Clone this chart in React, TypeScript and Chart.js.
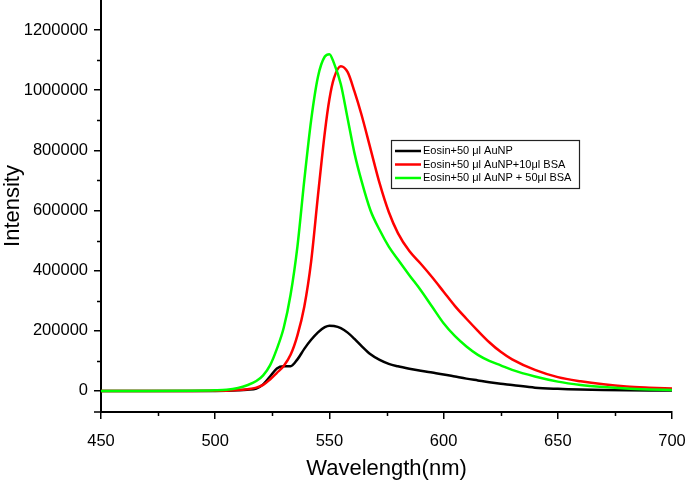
import React, { useEffect, useRef } from 'react';
import { Chart, registerables } from 'chart.js';
Chart.register(...registerables);

const wavelengths = [450, 470, 490, 500, 505, 510, 514, 518, 521, 524, 527, 530, 533, 536, 539, 542, 545, 548, 550, 552, 555, 558, 561, 564, 568, 572, 576, 580, 585, 590, 595, 600, 605, 610, 615, 620, 625, 630, 640, 650, 660, 670, 680, 690, 700];

const eosinAuNP = [0, 0, 0, 0, 500, 2000, 4000, 8000, 22000, 48000, 75000, 82000, 82000, 105000, 140000, 170000, 195000, 212000, 217000, 216000, 209000, 194000, 173000, 150000, 122000, 103000, 90000, 82000, 74000, 67000, 61000, 55000, 48000, 41000, 35000, 29000, 24000, 20000, 11000, 7000, 4500, 3000, 2200, 1800, 1500];

const eosinAuNP10BSA = [0, 0, 0, 500, 1000, 3000, 6000, 11000, 20000, 38000, 60000, 83000, 120000, 185000, 280000, 430000, 650000, 860000, 970000, 1040000, 1080000, 1060000, 995000, 920000, 805000, 690000, 595000, 525000, 465000, 423000, 378000, 330000, 282000, 240000, 200000, 162000, 130000, 105000, 70000, 46000, 32000, 22000, 15000, 11000, 8000];

const eosinAuNP50BSA = [0, 0, 500, 2000, 4000, 10000, 19000, 33000, 52000, 85000, 140000, 210000, 320000, 480000, 700000, 900000, 1045000, 1112000, 1120000, 1090000, 1020000, 905000, 790000, 700000, 600000, 535000, 480000, 437000, 385000, 335000, 280000, 225000, 182000, 148000, 120000, 100000, 85000, 70000, 48000, 31000, 20000, 13000, 8000, 5000, 3000];

const seriesLabels = ['Eosin+50 \u03bcl AuNP', 'Eosin+50 \u03bcl AuNP+10\u03bcl BSA', 'Eosin+50 \u03bcl AuNP + 50\u03bcl BSA'];
const seriesColors = ['#000000', '#ff0000', '#00ff00'];
const seriesValues = [eosinAuNP, eosinAuNP10BSA, eosinAuNP50BSA];

const xMajorTicks = [450, 500, 550, 600, 650, 700];
const xMinorTicks = [475, 525, 575, 625, 675];
const yMajorTicks = [0, 200000, 400000, 600000, 800000, 1000000, 1200000];
const yMinorTicks = [100000, 300000, 500000, 700000, 900000, 1100000];

const minorTicksPlugin = {
  id: 'minorTicks',
  afterDraw(chart: any) {
    const ctx = chart.ctx;
    const xs = chart.scales.x;
    const ys = chart.scales.y;
    const area = chart.chartArea;
    ctx.save();
    ctx.strokeStyle = '#000';
    ctx.lineWidth = 1.5;
    ctx.beginPath();
    xMinorTicks.forEach((v) => {
      const px = Math.round(xs.getPixelForValue(v)) + 0.5;
      ctx.moveTo(px, area.bottom);
      ctx.lineTo(px, area.bottom + 4);
    });
    yMinorTicks.forEach((v) => {
      const py = Math.round(ys.getPixelForValue(v)) + 0.5;
      ctx.moveTo(area.left, py);
      ctx.lineTo(area.left - 4, py);
    });
    ctx.moveTo(area.left, area.bottom);
    ctx.lineTo(area.left - 7, area.bottom);
    ctx.stroke();
    ctx.restore();
  },
};

const boxLegendPlugin = {
  id: 'boxLegend',
  afterDraw(chart: any) {
    const ctx = chart.ctx;
    const o = chart.options.plugins.boxLegend;
    ctx.save();
    ctx.fillStyle = '#fff';
    ctx.fillRect(o.x, o.y, o.w, o.h);
    ctx.strokeStyle = '#222';
    ctx.lineWidth = 1.2;
    ctx.strokeRect(o.x + 0.5, o.y + 0.5, o.w, o.h);
    ctx.font = '11px "Liberation Sans", Arial, sans-serif';
    ctx.textBaseline = 'middle';
    chart.data.datasets.forEach((ds: any, i: number) => {
      const cy = o.y + o.firstRow + i * o.rowGap;
      ctx.strokeStyle = ds.borderColor;
      ctx.lineWidth = 2.5;
      ctx.beginPath();
      ctx.moveTo(o.x + 4, cy);
      ctx.lineTo(o.x + 30, cy);
      ctx.stroke();
      ctx.fillStyle = '#000';
      ctx.fillText(ds.label, o.x + 32, cy);
    });
    ctx.restore();
  },
};

export default function App() {
  const canvasRef = useRef<HTMLCanvasElement | null>(null);

  useEffect(() => {
    if (!canvasRef.current) return;
    const datasets = seriesValues.map((vals, i) => ({
      label: seriesLabels[i],
      data: wavelengths.map((w, j) => ({ x: w, y: vals[j] })),
      borderColor: seriesColors[i],
      backgroundColor: seriesColors[i],
      borderWidth: 2.5,
      pointRadius: 0,
      fill: false,
      cubicInterpolationMode: 'monotone' as const,
      order: 2 - i,
    }));

    const chart = new Chart(canvasRef.current, {
      type: 'line',
      data: { datasets },
      plugins: [minorTicksPlugin, boxLegendPlugin],
      options: {
        animation: false,
        responsive: false,
        maintainAspectRatio: false,
        layout: { padding: { left: 0, right: 13, top: 0, bottom: 0 } },
        plugins: {
          legend: { display: false },
          tooltip: { enabled: false },
          boxLegend: { x: 391, y: 140, w: 188, h: 48, firstRow: 11, rowGap: 13.5 },
        } as any,
        scales: {
          x: {
            type: 'linear',
            min: 450,
            max: 700,
            afterBuildTicks: (scale: any) => {
              scale.ticks = xMajorTicks.map((v) => ({ value: v }));
            },
            afterFit: (scale: any) => {
              scale.height = 76;
              scale.paddingLeft = 0;
              scale.paddingRight = 0;
            },
            border: { display: true, color: '#000', width: 2 },
            grid: { display: true, drawOnChartArea: false, drawTicks: true, tickLength: 7, color: '#000', lineWidth: 1.5 },
            ticks: {
              color: '#000',
              padding: 13,
              maxRotation: 0,
              autoSkip: false,
              font: { family: '"Liberation Sans", Arial, sans-serif', size: 16.5 },
              callback: (v: any) => String(v),
            },
            title: {
              display: true,
              text: 'Wavelength(nm)',
              color: '#000',
              font: { family: '"Liberation Sans", Arial, sans-serif', size: 22 },
              padding: { top: 0, bottom: 6 },
            },
          },
          y: {
            type: 'linear',
            min: -70000,
            max: 1300000,
            afterBuildTicks: (scale: any) => {
              scale.ticks = yMajorTicks.map((v) => ({ value: v }));
            },
            afterFit: (scale: any) => {
              scale.width = 101;
              scale.paddingTop = 0;
              scale.paddingBottom = 0;
            },
            border: { display: true, color: '#000', width: 2 },
            grid: { display: true, drawOnChartArea: false, drawTicks: true, tickLength: 7, color: '#000', lineWidth: 1.5 },
            ticks: {
              color: '#000',
              padding: 6,
              autoSkip: false,
              font: { family: '"Liberation Sans", Arial, sans-serif', size: 16.5 },
              callback: (v: any) => String(v),
            },
            title: {
              display: true,
              text: 'Intensity',
              color: '#000',
              font: { family: '"Liberation Sans", Arial, sans-serif', size: 22 },
              padding: { top: 0, bottom: 0 },
            },
          },
        },
      } as any,
    });
    return () => chart.destroy();
  }, []);

  return (
    <div style={{ position: 'fixed', left: 0, top: 0, width: 685, height: 488, background: '#fff' }}>
      <canvas ref={canvasRef} width={685} height={488} style={{ display: 'block', width: 685, height: 488 }} />
    </div>
  );
}
